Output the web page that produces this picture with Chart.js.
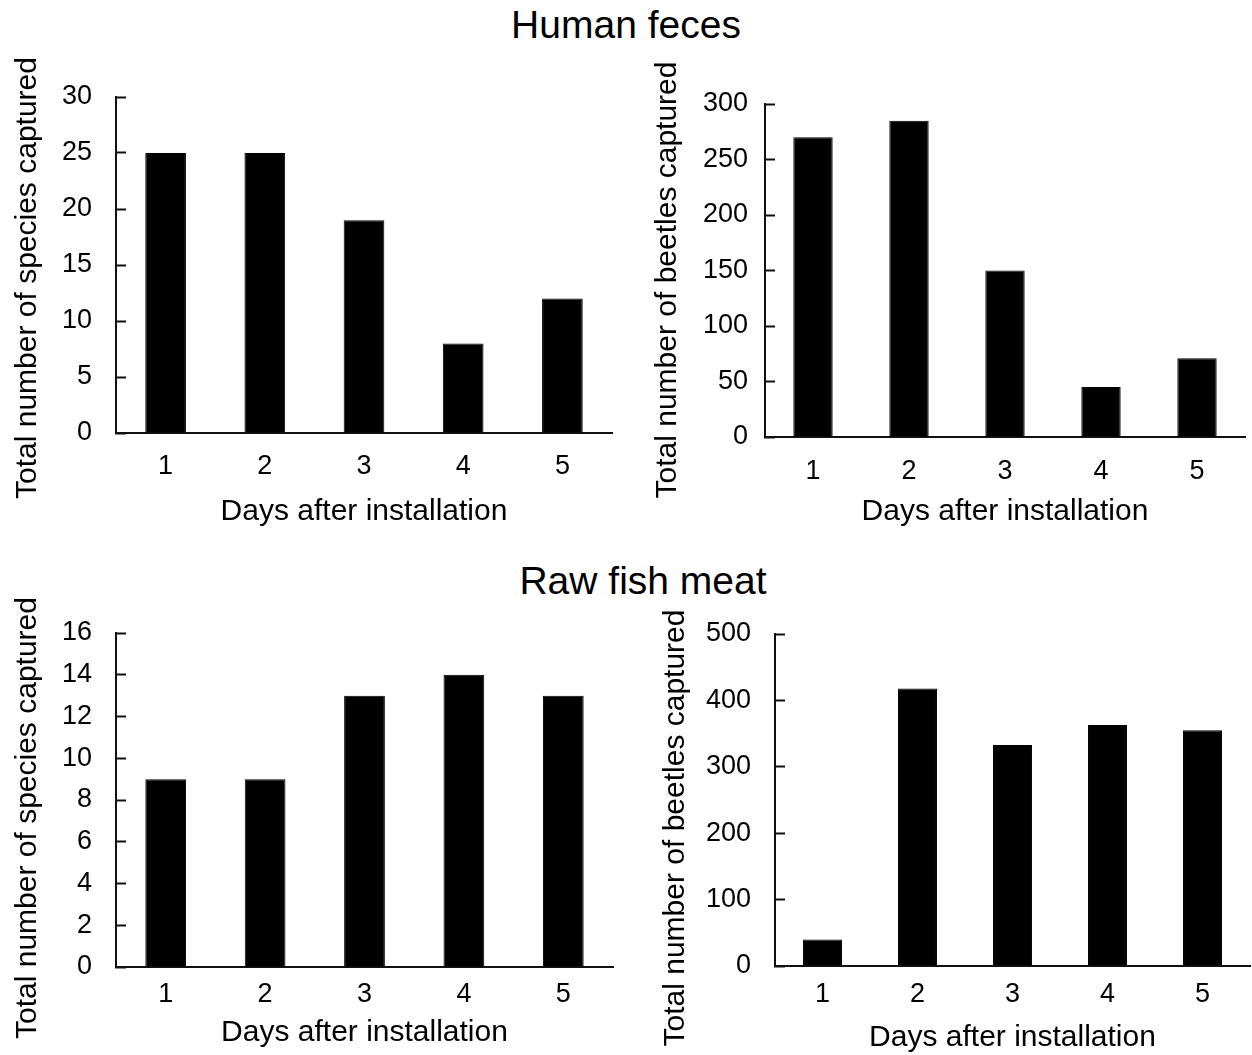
<!DOCTYPE html>
<html>
<head>
<meta charset="utf-8">
<script src="https://cdn.jsdelivr.net/npm/chart.js@4"></script>
<style>
  body { margin: 0; background: #fff; width: 1252px; height: 1055px; position: relative; overflow: hidden; }
  canvas { position: absolute; }
  .title {
    position: absolute; left: 0; font-family: "Liberation Sans", Arial, sans-serif;
    font-size: 39px; line-height: 39px; color: #000; white-space: nowrap;
  }
</style>
</head>
<body>
<div class="title" id="t1">Human feces</div>
<div class="title" id="t2">Raw fish meat</div>
<canvas id="c1"></canvas>
<canvas id="c2"></canvas>
<canvas id="c3"></canvas>
<canvas id="c4"></canvas>
<script>
const days = ['1', '2', '3', '4', '5']
const fecesSpecies = [25, 25, 19, 8, 12]
const fecesBeetles = [270, 285, 150, 45, 71]
const fishSpecies = [9, 9, 13, 14, 13]
const fishBeetles = [40, 418, 333, 363, 355]

const speciesLabel = 'Total number of species captured'
const beetlesLabel = 'Total number of beetles captured'
const xLabel = 'Days after installation'

const FONT = '"Liberation Sans", Arial, sans-serif'
const TICK_SIZE = 27
const TITLE_SIZE = 30
const TICK_LEN = 10

// place a big heading so its centre sits on (cx, cy)
function placeTitle(id, cx, cy) {
  const el = document.getElementById(id)
  const w = el.getBoundingClientRect().width
  el.style.left = (cx - w / 2) + 'px'
  el.style.top = (cy - 20) + 'px'
}

// the y titles in the original are not centred on the plot, so draw them ourselves
const yTitlePlugin = {
  id: 'yTitle',
  afterDraw(chart, args, opts) {
    const ctx = chart.ctx
    ctx.save()
    ctx.translate(opts.x, opts.y)
    ctx.rotate(-Math.PI / 2)
    ctx.font = `${TITLE_SIZE}px ${FONT}`
    ctx.fillStyle = '#000'
    ctx.textAlign = 'center'
    ctx.textBaseline = 'middle'
    ctx.fillText(opts.text, 0, 0)
    ctx.restore()
  },
}

function makePanel(id, values, yMax, yStep, yTitle, geo) {
  const { canvas, area } = geo
  const el = document.getElementById(id)
  el.width = canvas.w
  el.height = canvas.h
  el.style.left = canvas.x + 'px'
  el.style.top = canvas.y + 'px'

  const yWidth = area.left - canvas.x
  const xHeight = canvas.y + canvas.h - area.bottom
  const tickLine = TICK_SIZE * 1.2
  const titleLine = TITLE_SIZE * 1.2

  return new Chart(el, {
    type: 'bar',
    data: {
      labels: days,
      datasets: [{
        data: values,
        backgroundColor: '#000',
        borderColor: '#000',
        borderWidth: 1,
        barPercentage: 0.41,
        categoryPercentage: 1,
      }],
    },
    plugins: [yTitlePlugin],
    options: {
      responsive: false,
      animation: false,
      devicePixelRatio: 1,
      layout: {
        padding: { left: 0, top: area.top - canvas.y, right: canvas.x + canvas.w - area.right, bottom: 0 },
      },
      plugins: {
        legend: { display: false },
        tooltip: { enabled: false },
        yTitle: { text: yTitle, x: geo.yTitleX - canvas.x, y: geo.yTitleY - canvas.y },
      },
      scales: {
        x: {
          grid: { display: true, drawOnChartArea: false, drawTicks: false },
          border: { color: '#111', width: 2 },
          ticks: {
            color: '#000',
            font: { family: FONT, size: TICK_SIZE },
            padding: geo.xTickY - area.bottom - tickLine / 2,
          },
          title: {
            display: true,
            text: xLabel,
            color: '#000',
            font: { family: FONT, size: TITLE_SIZE },
            padding: { top: 0, bottom: canvas.y + canvas.h - geo.xTitleY - titleLine / 2 },
          },
          afterFit: (s) => { s.height = xHeight },
        },
        y: {
          min: 0,
          max: yMax,
          grid: {
            drawOnChartArea: false,
            drawTicks: true,
            tickLength: -TICK_LEN, // ticks point into the plot
            tickColor: '#111',
            tickWidth: 2,
          },
          border: { color: '#111', width: 2 },
          ticks: {
            stepSize: yStep,
            color: '#000',
            font: { family: FONT, size: TICK_SIZE },
            padding: area.left - geo.yLabelRight + TICK_LEN,
          },
          afterFit: (s) => { s.width = yWidth },
        },
      },
    },
  })
}

placeTitle('t1', 626, 25)
placeTitle('t2', 643, 581)

makePanel('c1', fecesSpecies, 30, 5, speciesLabel, {
  canvas: { x: 0, y: 40, w: 620, h: 500 },
  area: { left: 116, right: 612, top: 97, bottom: 433 },
  yLabelRight: 92, xTickY: 467, xTitleY: 512, yTitleX: 28, yTitleY: 278,
})
makePanel('c2', fecesBeetles, 300, 50, beetlesLabel, {
  canvas: { x: 630, y: 40, w: 622, h: 500 },
  area: { left: 765, right: 1245, top: 104, bottom: 437 },
  yLabelRight: 748, xTickY: 472, xTitleY: 512, yTitleX: 668, yTitleY: 280,
})
makePanel('c3', fishSpecies, 16, 2, speciesLabel, {
  canvas: { x: 0, y: 560, w: 620, h: 495 },
  area: { left: 116, right: 613, top: 633, bottom: 967 },
  yLabelRight: 92, xTickY: 995, xTitleY: 1033, yTitleX: 28, yTitleY: 818,
})
makePanel('c4', fishBeetles, 500, 100, beetlesLabel, {
  canvas: { x: 630, y: 560, w: 622, h: 495 },
  area: { left: 775, right: 1250, top: 634, bottom: 966 },
  yLabelRight: 751, xTickY: 995, xTitleY: 1038, yTitleX: 676, yTitleY: 828,
})
</script>
</body>
</html>
